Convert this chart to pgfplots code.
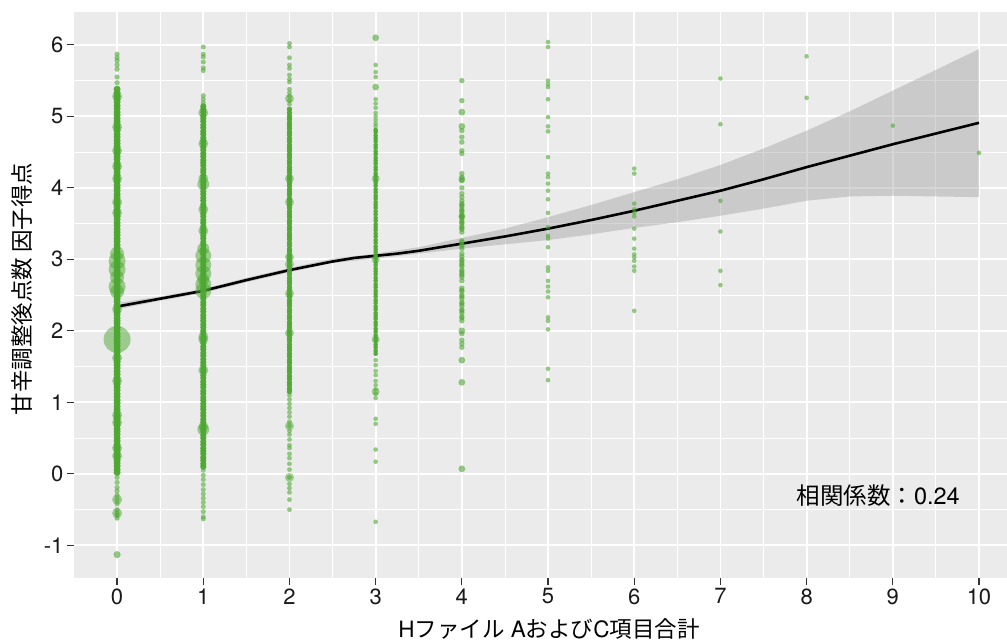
\documentclass[border=0pt]{standalone}
\usepackage{fontspec}
\setmainfont{TeX Gyre Heros}
\newfontfamily\jp{Noto Sans CJK JP}
\usepackage{pgfplots}
\pgfplotsset{compat=1.18}
\definecolor{panel}{HTML}{EBEBEB}
\definecolor{dotgreen}{RGB}{77,168,50}
\definecolor{bandgray}{RGB}{153,153,153}
\pgfplotsset{
  dots/.style={only marks, mark=*, mark size=#1,
    mark options={draw opacity=0, line width=0pt, fill=dotgreen, fill opacity=0.6}},
  dense/.style={only marks, mark=*, mark size=#1,
    mark options={draw opacity=0, line width=0pt, fill=dotgreen, fill opacity=0.95}},
  blobs/.style={only marks, mark=*, mark size=#1,
    mark options={draw opacity=0, line width=0pt, fill=dotgreen, fill opacity=0.5}},
}
\begin{document}
\begin{tikzpicture}[x=1pt,y=1pt]
\useasboundingbox (-74,-63) rectangle (933,578);
\begin{axis}[
  at={(0,0)}, anchor=south west,
  scale only axis, width=933pt, height=566pt,
  xmin=-0.5, xmax=10.325, ymin=-1.457, ymax=6.46,
  axis background/.style={fill=panel},
  axis line style={draw=none},
  xtick={0,1,2,3,4,5,6,7,8,9,10},
  ytick={-1,0,1,2,3,4,5,6},
  xticklabels={0,1,2,3,4,5,6,7,8,9,10},
  yticklabels={-1,0,1,2,3,4,5,6},
  minor xtick={0.5,1.5,2.5,3.5,4.5,5.5,6.5,7.5,8.5,9.5},
  minor ytick={-0.5,0.5,1.5,2.5,3.5,4.5,5.5},
  grid=both,
  major grid style={white, line width=1.8pt},
  minor grid style={white, line width=0.9pt},
  tick align=outside, tick pos=left,
  major tick length=7pt, minor tick length=0pt,
  tick style={draw=black!80, line width=1.2pt},
  ticklabel style={font=\fontsize{22}{25}\selectfont, text=black!90},
  xlabel={H{\jp ファイル} A{\jp および}C{\jp 項目合計}},
  ylabel={\jp 甘辛調整後点数 因子得点},
  xlabel style={at={(axis description cs:0.509,-0.090)}, anchor=center,
    font=\fontsize{22.5}{26}\selectfont},
  ylabel style={at={(axis description cs:-0.0552,0.5106)}, anchor=center,
    font=\fontsize{22.5}{26}\selectfont},
  clip=true,
]

% column 0
\addplot[dense=3.5] coordinates {
(0,0.02)(0,0.06)(0,0.11)(0,0.15)(0,0.19)(0,0.24)(0,0.28)(0,0.33)(0,0.37)(0,0.41)
(0,0.46)(0,0.50)(0,0.55)(0,0.59)(0,0.63)(0,0.68)(0,0.72)(0,0.77)(0,0.81)(0,0.86)
(0,0.90)(0,0.94)(0,0.99)(0,1.03)(0,1.08)(0,1.12)(0,1.17)(0,1.21)(0,1.25)(0,1.30)
(0,1.34)(0,1.39)(0,1.43)(0,1.48)(0,1.52)(0,1.56)(0,1.61)(0,1.65)(0,1.70)(0,1.74)
(0,1.79)(0,1.83)(0,1.87)(0,1.92)(0,1.96)(0,2.01)(0,2.05)(0,2.10)(0,2.14)(0,2.18)
(0,2.23)(0,2.27)(0,2.32)(0,2.36)(0,2.41)(0,2.45)(0,2.49)(0,2.54)(0,2.58)(0,2.63)
(0,2.67)(0,2.72)(0,2.76)(0,2.80)(0,2.85)(0,2.89)(0,2.94)(0,2.98)(0,3.03)(0,3.07)
(0,3.11)(0,3.16)(0,3.20)(0,3.25)(0,3.29)(0,3.34)(0,3.38)(0,3.42)(0,3.47)(0,3.51)
(0,3.56)(0,3.60)(0,3.65)(0,3.69)(0,3.73)(0,3.78)(0,3.82)(0,3.87)(0,3.91)(0,3.96)
(0,4.00)(0,4.04)(0,4.09)(0,4.13)(0,4.18)(0,4.22)(0,4.27)(0,4.31)(0,4.35)(0,4.40)
(0,4.44)(0,4.49)(0,4.53)(0,4.58)(0,4.62)(0,4.66)(0,4.71)(0,4.75)(0,4.80)(0,4.84)
(0,4.89)(0,4.93)(0,4.97)(0,5.02)(0,5.06)(0,5.11)(0,5.15)(0,5.20)(0,5.24)(0,5.28)
(0,5.33)(0,5.38)
};
\addplot[dots=2.6] coordinates {
(0,5.87)(0,5.82)(0,5.78)(0,5.72)(0,5.66)(0,5.55)(0,5.47)
(0,-0.05)(0,-0.12)(0,-0.19)(0,-0.24)(0,-0.30)(0,-0.36)(0,-0.42)(0,-0.50)
(0,-0.55)(0,-0.58)(0,-0.62)
};
\addplot[dots=3.6] coordinates {(0,-1.13)};
\addplot[blobs=5] coordinates {
(0,4.52)(0,4.13)(0,3.80)(0,3.65)(0,5.28)(0,4.85)(0,1.30)(0,0.82)(0,0.72)
(0,0.36)(0,0.25)(0,-0.36)(0,-0.55)(0,1.62)(0,2.30)(0,4.30)
};
\addplot[blobs=7] coordinates {(0,3.08)(0,2.75)(0,2.55)};
\addplot[blobs=8.5] coordinates {(0,2.98)(0,2.86)(0,2.62)};
\addplot[blobs=13.5] coordinates {(0,1.88)};

% column 1
\addplot[dense=3.1] coordinates {
(1,0.10)(1,0.14)(1,0.19)(1,0.23)(1,0.28)(1,0.32)(1,0.36)(1,0.41)(1,0.45)(1,0.50)
(1,0.54)(1,0.59)(1,0.63)(1,0.67)(1,0.72)(1,0.76)(1,0.81)(1,0.85)(1,0.90)(1,0.94)
(1,0.98)(1,1.03)(1,1.07)(1,1.12)(1,1.16)(1,1.21)(1,1.25)(1,1.29)(1,1.34)(1,1.38)
(1,1.43)(1,1.47)(1,1.52)(1,1.56)(1,1.60)(1,1.65)(1,1.69)(1,1.74)(1,1.78)(1,1.83)
(1,1.87)(1,1.91)(1,1.96)(1,2.00)(1,2.05)(1,2.09)(1,2.14)(1,2.18)(1,2.22)(1,2.27)
(1,2.31)(1,2.36)(1,2.40)(1,2.45)(1,2.49)(1,2.53)(1,2.58)(1,2.62)(1,2.67)(1,2.71)
(1,2.76)(1,2.80)(1,2.84)(1,2.89)(1,2.93)(1,2.98)(1,3.02)(1,3.07)(1,3.11)(1,3.15)
(1,3.20)(1,3.24)(1,3.29)(1,3.33)(1,3.38)(1,3.42)(1,3.46)(1,3.51)(1,3.55)(1,3.60)
(1,3.64)(1,3.69)(1,3.73)(1,3.77)(1,3.82)(1,3.86)(1,3.91)(1,3.95)(1,4.00)(1,4.04)
(1,4.08)(1,4.13)(1,4.17)(1,4.22)(1,4.26)(1,4.31)(1,4.35)(1,4.39)(1,4.44)(1,4.48)
(1,4.53)(1,4.57)(1,4.62)(1,4.66)(1,4.70)(1,4.75)(1,4.79)(1,4.84)(1,4.88)(1,4.93)
(1,4.97)(1,5.01)(1,5.06)(1,5.10)(1,5.14)
};
\addplot[dots=2.5] coordinates {
(1,5.97)(1,5.87)(1,5.83)(1,5.76)(1,5.68)(1,5.64)(1,5.29)(1,5.24)(1,5.19)
(1,0.05)(1,-0.02)(1,-0.08)(1,-0.15)(1,-0.22)(1,-0.28)(1,-0.34)(1,-0.40)
(1,-0.46)(1,-0.53)(1,-0.60)(1,-0.63)
};
\addplot[blobs=5] coordinates {
(1,4.13)(1,3.70)(1,4.62)(1,5.05)(1,1.92)(1,1.88)(1,0.66)(1,1.45)(1,3.40)
};
\addplot[blobs=6] coordinates {(1,4.05)(1,0.62)(1,3.15)(1,2.72)};
\addplot[blobs=8] coordinates {(1,3.05)(1,2.92)(1,2.80)(1,2.65)(1,2.56)};

% column 2
\addplot[dense=2.7] coordinates {
(2,1.15)(2,1.19)(2,1.24)(2,1.28)(2,1.33)(2,1.37)(2,1.42)(2,1.46)(2,1.50)(2,1.55)
(2,1.59)(2,1.64)(2,1.68)(2,1.73)(2,1.77)(2,1.81)(2,1.86)(2,1.90)(2,1.95)(2,1.99)
(2,2.04)(2,2.08)(2,2.12)(2,2.17)(2,2.21)(2,2.26)(2,2.30)(2,2.35)(2,2.39)(2,2.43)
(2,2.48)(2,2.52)(2,2.57)(2,2.61)(2,2.66)(2,2.70)(2,2.74)(2,2.79)(2,2.83)(2,2.88)
(2,2.92)(2,2.97)(2,3.01)(2,3.05)(2,3.10)(2,3.14)(2,3.19)(2,3.23)(2,3.28)(2,3.32)
(2,3.36)(2,3.41)(2,3.45)(2,3.50)(2,3.54)(2,3.59)(2,3.63)(2,3.67)(2,3.72)(2,3.76)
(2,3.81)(2,3.85)(2,3.90)(2,3.94)(2,3.98)(2,4.03)(2,4.07)(2,4.12)(2,4.16)(2,4.21)
(2,4.25)(2,4.29)(2,4.34)(2,4.38)(2,4.43)(2,4.47)(2,4.52)(2,4.56)(2,4.60)(2,4.65)
(2,4.69)(2,4.74)(2,4.78)(2,4.83)(2,4.87)(2,4.91)(2,4.96)(2,5.00)(2,5.05)(2,5.10)
};
\addplot[dots=2.4] coordinates {
(2,0.48)(2,0.55)(2,0.60)(2,0.67)(2,0.73)(2,0.80)(2,0.86)(2,0.92)(2,0.98)(2,1.04)(2,1.10)
(2,6.02)(2,5.97)(2,5.82)(2,5.72)(2,5.67)(2,5.58)(2,5.52)(2,5.48)(2,5.38)(2,5.33)
(2,5.28)(2,5.22)(2,5.17)
(2,0.40)(2,0.36)(2,0.28)(2,0.22)(2,0.14)(2,0.06)(2,-0.05)(2,-0.14)(2,-0.20)
(2,-0.26)(2,-0.36)(2,-0.50)
};
\addplot[blobs=4.5] coordinates {
(2,4.13)(2,3.80)(2,3.03)(2,2.93)(2,2.52)(2,1.97)(2,0.67)(2,-0.05)(2,5.25)
};

% column 3
\addplot[dense=2.3] coordinates {
(3,1.68)(3,1.72)(3,1.77)(3,1.81)(3,1.86)(3,1.90)(3,1.94)(3,1.99)(3,2.03)(3,2.08)
(3,2.12)(3,2.17)(3,2.21)(3,2.25)(3,2.30)(3,2.34)(3,2.39)(3,2.43)(3,2.48)(3,2.52)
(3,2.56)(3,2.61)(3,2.65)(3,2.70)(3,2.74)(3,2.79)(3,2.83)(3,2.87)(3,2.92)(3,2.96)
(3,3.01)(3,3.05)(3,3.10)(3,3.14)(3,3.18)(3,3.23)(3,3.27)(3,3.32)(3,3.36)(3,3.41)
(3,3.45)(3,3.49)(3,3.54)(3,3.58)(3,3.63)(3,3.67)(3,3.72)(3,3.76)(3,3.80)(3,3.85)
(3,3.89)(3,3.94)(3,3.98)(3,4.03)(3,4.07)(3,4.11)(3,4.16)(3,4.20)(3,4.25)(3,4.29)
(3,4.34)(3,4.38)(3,4.42)(3,4.47)(3,4.51)(3,4.56)(3,4.60)(3,4.65)(3,4.69)(3,4.73)
(3,4.78)(3,4.81)
};
\addplot[dots=2.3] coordinates {
(3,5.72)(3,5.62)(3,5.55)(3,5.24)(3,5.18)(3,5.12)(3,5.05)(3,5.00)(3,4.95)
(3,4.90)(3,4.86)
(3,1.59)(3,1.52)(3,1.44)(3,1.38)(3,1.30)(3,1.24)(3,1.18)(3,1.12)(3,1.06)
(3,0.77)(3,0.70)(3,0.34)(3,0.17)(3,-0.67)
};
\addplot[dots=3.4] coordinates {(3,6.10)(3,5.41)};
\addplot[blobs=4] coordinates {(3,4.13)(3,3.00)(3,1.88)(3,1.15)};

% column 4
\addplot[dots=2.7] coordinates {
(4,5.50)(4,5.22)(4,4.80)(4,4.71)(4,4.64)(4,4.52)(4,4.48)(4,4.20)(4,4.15)
(4,4.10)(4,4.00)(4,3.92)(4,3.87)(4,3.82)(4,3.78)(4,3.74)(4,3.70)(4,3.66)
(4,3.62)(4,3.58)(4,3.54)(4,3.50)(4,3.46)(4,3.42)(4,3.38)(4,3.26)(4,3.21)
(4,3.15)(4,3.08)(4,3.00)(4,2.95)(4,2.90)(4,2.85)(4,2.80)(4,2.75)(4,2.70)
(4,2.60)(4,2.55)(4,2.50)(4,2.45)(4,2.40)(4,2.35)(4,2.30)(4,2.25)(4,2.20)
(4,2.14)(4,1.96)(4,1.87)(4,1.82)(4,1.77)
(4,3.76)(4,3.68)(4,3.60)(4,3.52)(4,3.44)(4,3.24)(4,3.18)(4,3.04)(4,2.98)
(4,2.92)(4,2.83)(4,2.78)(4,2.57)(4,2.48)(4,2.38)(4,2.28)(4,2.18)
};
\addplot[dots=3.4] coordinates {
(4,5.06)(4,4.86)(4,4.12)(4,3.60)(4,2.00)(4,1.59)(4,1.28)(4,0.07)
};

% column 5
\addplot[dots=2.3] coordinates {
(5,6.04)(5,5.97)(5,5.50)(5,5.45)(5,5.41)(5,5.24)(5,4.99)(5,4.86)(5,4.79)
(5,4.43)(5,4.20)(5,4.15)(5,4.06)(5,3.96)(5,3.84)(5,3.65)(5,3.45)(5,3.33)
(5,3.29)(5,3.17)(5,2.89)(5,2.84)(5,2.70)(5,2.62)(5,2.55)(5,2.47)(5,2.19)
(5,2.14)(5,2.02)(5,1.47)(5,1.31)
};

% columns 6 to 10
\addplot[dots=2.3] coordinates {
(6,4.27)(6,4.20)(6,3.78)(6,3.70)(6,3.65)(6,3.60)(6,3.43)(6,3.29)(6,3.15)
(6,3.07)(6,3.03)(6,2.98)(6,2.90)(6,2.84)(6,2.28)
(7,5.53)(7,4.89)(7,3.82)(7,3.39)(7,2.84)(7,2.64)
(8,5.84)(8,5.26)
(9,4.87)
(10,4.49)
};

% smoothing band and fitted curve
\addplot[fill=bandgray, fill opacity=0.4, draw=none] coordinates {
(0,2.39)(0.5,2.48)(1,2.59)(1.5,2.74)(2,2.88)(2.5,3.01)(3,3.08)(3.5,3.17)
(4,3.30)(4.5,3.43)(5,3.59)(5.5,3.76)(6,3.94)(6.5,4.12)(7,4.32)(7.5,4.55)
(8,4.80)(8.5,5.07)(9,5.36)(9.5,5.65)(10,5.94)
(10,3.87)(9.5,3.88)(9,3.89)(8.5,3.88)(8,3.82)(7.5,3.71)(7,3.61)(6.5,3.52)
(6,3.44)(5.5,3.35)(5,3.27)(4.5,3.21)(4,3.15)(3.5,3.08)(3,3.01)(2.5,2.95)
(2,2.82)(1.5,2.68)(1,2.53)(0.5,2.42)(0,2.30)
} -- cycle;
\addplot[black, line width=2.6pt] coordinates {
(0,2.34)(0.5,2.45)(1,2.56)(1.5,2.71)(2,2.85)(2.5,2.97)(2.75,3.02)(3,3.05)
(3.25,3.08)(3.5,3.12)(4,3.22)(4.5,3.32)(5,3.43)(5.5,3.55)(6,3.68)(6.5,3.82)
(7,3.96)(7.5,4.12)(8,4.29)(8.5,4.45)(9,4.61)(9.5,4.76)(10,4.91)
};

\node[font=\fontsize{23.5}{27}\selectfont, anchor=center]
  at (axis cs:8.83,-0.30) {{\jp 相関係数：}0.24};
\end{axis}
\end{tikzpicture}
\end{document}
